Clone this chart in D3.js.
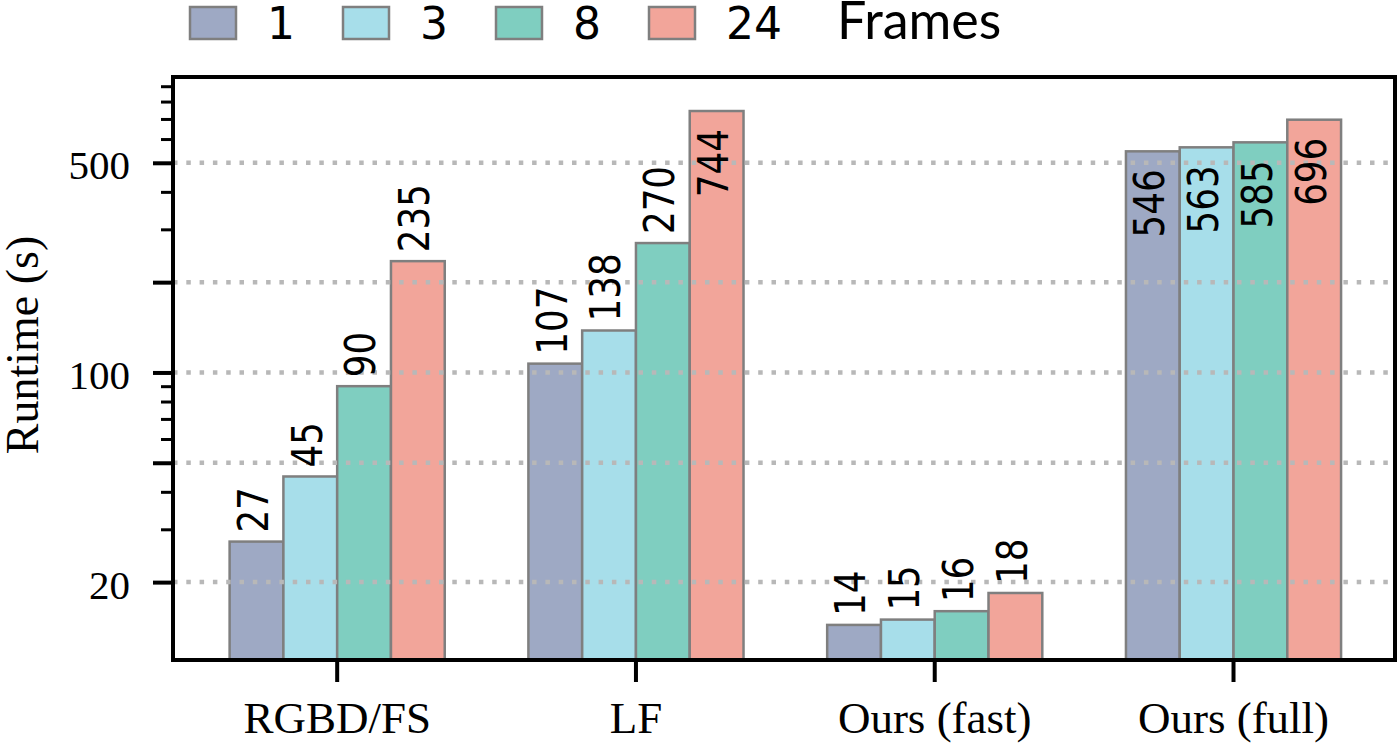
<!DOCTYPE html>
<html>
<head>
<meta charset="utf-8">
<script src="https://cdn.jsdelivr.net/npm/d3@7"></script>
<style>
  body { margin: 0; background: #fff; }
  svg { display: block; }
</style>
</head>
<body>
<div id="chart"></div>
<script>
// data (bar heights, labels are the rounded values)
var groups = ['RGBD/FS', 'LF', 'Ours (fast)', 'Ours (full)'];
var frames = ['1', '3', '8', '24'];
var rgbdFs = [27.3, 45, 90, 235];
var lf = [107, 138, 270, 744];
var oursFast = [14.4, 15, 16, 18.4];
var oursFull = [546, 563, 585, 696];
var yMajor = [20, 50, 100, 200, 500];
var yLabelled = [20, 100, 500];
var yMinor = [30, 40, 60, 70, 80, 90, 300, 400, 600, 700, 800, 900];

var colors = ['#9ea9c4', '#a7deea', '#7fcec0', '#f2a59a'];
var series = [rgbdFs, lf, oursFast, oursFull];

var width = 1400, height = 745;
var margin = { top: 77, right: 5, bottom: 85, left: 173 };
var w = width - margin.left - margin.right;
var h = height - margin.top - margin.bottom;

var svg = d3.select('#chart').append('svg')
  .attr('width', width)
  .attr('height', height);

var g = svg.append('g')
  .attr('transform', 'translate(' + margin.left + ',' + margin.top + ')');

var x0 = d3.scaleBand().domain(groups).range([0, w])
  .paddingInner(0).paddingOuter(0.045).align(0.55);
var x1 = d3.scaleBand().domain(frames)
  .range([x0.bandwidth() * 0.14, x0.bandwidth() * 0.86]);
var y = d3.scaleLog().domain([11, 966]).range([h, 0]);

// flatten into bar records
var bars = [];
groups.forEach(function(grp, gi) {
  frames.forEach(function(f, fi) {
    bars.push({ group: grp, frame: f, fi: fi, value: series[gi][fi] });
  });
});

svg.append('defs').append('clipPath').attr('id', 'plotClip')
  .append('rect').attr('width', w).attr('height', h);

var plot = g.append('g').attr('clip-path', 'url(#plotClip)');

plot.selectAll('rect.bar')
  .data(bars)
  .enter()
  .append('rect')
  .attr('class', 'bar')
  .attr('x', d => x0(d.group) + x1(d.frame))
  .attr('y', d => y(d.value))
  .attr('width', x1.bandwidth())
  .attr('height', d => h - y(d.value))
  .attr('fill', d => colors[d.fi])
  .attr('stroke', '#7f7f7f')
  .attr('stroke-width', 2.5);

// dotted grid on top of the bars
plot.selectAll('line.grid')
  .data(yMajor)
  .enter()
  .append('line')
  .attr('x1', 0).attr('x2', w)
  .attr('y1', d => y(d)).attr('y2', d => y(d))
  .attr('stroke', '#b8b8b8')
  .attr('stroke-width', 4.5)
  .attr('stroke-dasharray', '4.5 8.8');

// value labels, rotated; tall bars get them inside
g.selectAll('text.val')
  .data(bars)
  .enter()
  .append('text')
  .attr('class', 'val')
  .attr('transform', function(d) {
    let inside = y(d.value) < 95;
    let cx = x0(d.group) + x1(d.frame) + x1.bandwidth() / 2;
    let ty = inside ? y(d.value) + 18 : y(d.value) - 9;
    return 'translate(' + cx + ',' + ty + ') rotate(-90) scale(0.85,1)';
  })
  .attr('text-anchor', d => y(d.value) < 95 ? 'end' : 'start')
  .attr('dy', '0.27em')
  .attr('font-family', 'DejaVu Sans')
  .attr('font-size', 42)
  .attr('fill', '#000')
  .text(d => Math.round(d.value));

// y axis: major + minor ticks
var yAxis = g.append('g')
  .call(d3.axisLeft(y).tickValues(yMajor).tickSize(20).tickPadding(0)
    .tickFormat(d => yLabelled.indexOf(d) != -1 ? d : ''));
yAxis.select('.domain').remove();
yAxis.selectAll('line').attr('stroke', '#000').attr('stroke-width', 4);
yAxis.selectAll('text')
  .attr('x', -43)
  .attr('dy', null)
  .attr('y', 16)
  .attr('font-family', 'Liberation Serif')
  .attr('font-size', 41)
  .attr('fill', '#000');

var yMinorAxis = g.append('g')
  .call(d3.axisLeft(y).tickValues(yMinor).tickSize(12).tickFormat(''));
yMinorAxis.select('.domain').remove();
yMinorAxis.selectAll('line').attr('stroke', '#000').attr('stroke-width', 3);

// x axis
var xAxis = g.append('g')
  .attr('transform', 'translate(0,' + h + ')')
  .call(d3.axisBottom(x0).tickSize(22));
xAxis.select('.domain').remove();
xAxis.selectAll('line').attr('stroke', '#000').attr('stroke-width', 4);
xAxis.selectAll('text')
  .attr('dy', null)
  .attr('y', 73)
  .attr('font-family', 'Liberation Serif')
  .attr('font-size', 45)
  .attr('fill', '#000');

// frame
g.append('rect')
  .attr('width', w).attr('height', h)
  .attr('fill', 'none')
  .attr('stroke', '#000')
  .attr('stroke-width', 4);

// y label
svg.append('text')
  .attr('transform', 'translate(38,345) rotate(-90)')
  .attr('text-anchor', 'middle')
  .attr('font-family', 'Liberation Serif')
  .attr('font-size', 46)
  .attr('fill', '#000')
  .text('Runtime (s)');

// legend
var legend = svg.append('g').attr('transform', 'translate(190,7)');
var items = legend.selectAll('g')
  .data(frames)
  .enter()
  .append('g')
  .attr('transform', (d, i) => 'translate(' + (i * 153) + ',0)');
items.append('rect')
  .attr('width', 46).attr('height', 32)
  .attr('fill', (d, i) => colors[i])
  .attr('stroke', '#7f7f7f')
  .attr('stroke-width', 2.5);
items.append('text')
  .attr('x', 77).attr('y', 32)
  .attr('font-family', 'DejaVu Sans')
  .attr('font-size', 44)
  .attr('fill', '#000')
  .text(d => d);
legend.append('text')
  .attr('x', 4 * 153 + 35).attr('y', 32)
  .attr('font-family', 'Lato')
  .attr('font-size', 52)
  .attr('fill', '#000')
  .text('Frames');
</script>
</body>
</html>
